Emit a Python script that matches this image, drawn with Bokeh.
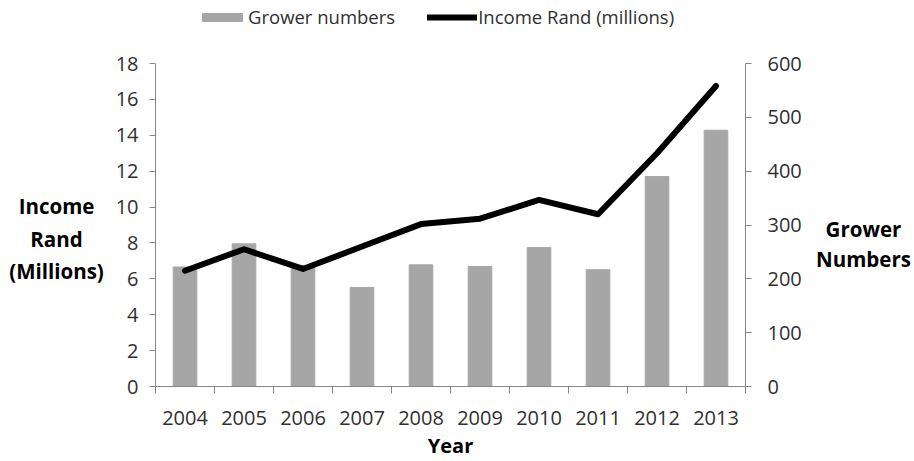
from bokeh.plotting import figure
from bokeh.models import (Range1d, LinearAxis, FixedTicker, Legend, LegendItem, Label)
from bokeh.layouts import column, row
from bokeh.embed import file_html
from bokeh.resources import INLINE

years = ["2004", "2005", "2006", "2007", "2008", "2009", "2010", "2011", "2012", "2013"]
growers = [222, 265, 225, 184, 226, 223, 258, 217, 390, 476]
income = [6.45, 7.65, 6.55, 7.8, 9.05, 9.35, 10.4, 9.6, 13.0, 16.75]
left_ticks = [0, 2, 4, 6, 8, 10, 12, 14, 16, 18]
right_ticks = [0, 100, 200, 300, 400, 500, 600]
left_title = ["Income", "Rand", "(Millions)"]
right_title = ["Grower", "Numbers"]
bar_name = "Grower numbers"
line_name = "Income Rand (millions)"

FONT = "Open Sans"
AXIS_C = "#868686"
TEXT_C = "#303030"
BAR_C = "#A6A6A6"
TICK_FS = "20px"

W, H = 914, 461
TOP_H = 40
LEFT_W, RIGHT_W = 112, 99
MAIN_W = W - LEFT_W - RIGHT_W
ROW_H = H - TOP_H
FRAME_TOP, FRAME_BOTTOM = 63, 386   # page pixels of the plotting area


def blank(w, h, yr):
    f = figure(width=w, height=h, output_backend="svg", toolbar_location=None,
               x_range=Range1d(0, w), y_range=yr,
               min_border=0, min_border_left=0, min_border_right=0,
               min_border_top=0, min_border_bottom=0)
    f.outline_line_color = None
    f.grid.visible = False
    f.axis.visible = False
    return f


# ---- top strip with the legend ----
top = blank(W, TOP_H, Range1d(0, TOP_H))
nan = float("nan")
d_bar = top.vbar(x=[nan], top=[nan], width=0.4, color=BAR_C)
d_line = top.line(x=[nan], y=[nan], line_color="black", line_width=6, line_cap="round")
legend = Legend(items=[LegendItem(label=bar_name, renderers=[d_bar]),
                       LegendItem(label=line_name, renderers=[d_line])],
                orientation="horizontal", location=(197, 11),
                label_text_font=FONT, label_text_font_size="18.5px", label_text_color=TEXT_C,
                glyph_width=50, glyph_height=10, spacing=32, label_standoff=1,
                padding=0, margin=0, border_line_color=None, background_fill_alpha=0)
top.add_layout(legend, "center")

# ---- main chart ----
xs = [i + 0.5 for i in range(len(years))]
p = figure(width=MAIN_W, height=ROW_H, output_backend="svg", toolbar_location=None,
           x_range=Range1d(0, len(years)), y_range=Range1d(0, 18),
           min_border_left=152 - LEFT_W, min_border_right=LEFT_W + MAIN_W - 745,
           min_border_top=FRAME_TOP - TOP_H, min_border_bottom=H - FRAME_BOTTOM)
p.extra_y_ranges = {"grower": Range1d(0, 600)}
p.outline_line_color = None
p.grid.visible = False
p.xaxis.visible = False
p.yaxis.visible = False

p.vbar(x=xs, top=growers, width=0.4, color=BAR_C, y_range_name="grower")
p.line(xs, income, line_color="black", line_width=6, line_cap="round", line_join="round")


def style(ax):
    ax.axis_line_color = AXIS_C
    ax.major_tick_line_color = AXIS_C
    ax.minor_tick_line_color = AXIS_C
    ax.major_label_text_font = FONT
    ax.major_label_text_font_size = TICK_FS
    ax.major_label_text_color = TEXT_C
    ax.axis_label_text_font = FONT
    ax.axis_label_text_font_size = "20px"
    ax.axis_label_text_font_style = "bold"
    ax.axis_label_text_color = "black"


xa = LinearAxis(ticker=FixedTicker(ticks=xs, minor_ticks=list(range(len(years) + 1))),
                axis_label="Year")
xa.major_label_overrides = {x: y for x, y in zip(xs, years)}
style(xa)
xa.major_tick_out = 0
xa.major_tick_in = 0
xa.minor_tick_out = 7
xa.minor_tick_in = 0
xa.major_label_standoff = 17
xa.axis_label_standoff = 4
p.add_layout(xa, "below")

la = LinearAxis(ticker=FixedTicker(ticks=left_ticks, minor_ticks=[]))
style(la)
la.major_tick_out = 6
la.major_tick_in = 0
la.major_label_standoff = 11
p.add_layout(la, "left")

ra = LinearAxis(y_range_name="grower", ticker=FixedTicker(ticks=right_ticks, minor_ticks=[]))
style(ra)
ra.major_tick_out = 6
ra.major_tick_in = 0
ra.major_label_standoff = 16
p.add_layout(ra, "right")

# ---- side titles (side frames line up with the main frame) ----
left = blank(LEFT_W, ROW_H, Range1d(FRAME_BOTTOM, FRAME_TOP))
for txt, py in zip(left_title, [205, 238, 270]):
    left.add_layout(Label(x=56, y=py, text=txt, text_font=FONT, text_font_size="20.5px",
                          text_font_style="bold", text_color="black",
                          text_align="center", text_baseline="middle"))

right = blank(RIGHT_W, ROW_H, Range1d(FRAME_BOTTOM, FRAME_TOP))
for txt, py in zip(right_title, [228, 258]):
    right.add_layout(Label(x=863 - (LEFT_W + MAIN_W), y=py, text=txt, text_font=FONT,
                           text_font_size="20.5px", text_font_style="bold", text_color="black",
                           text_align="center", text_baseline="middle"))

layout = column(top, row(left, p, right, spacing=0), spacing=0)
open("out.html", "w").write(file_html(layout, INLINE))
